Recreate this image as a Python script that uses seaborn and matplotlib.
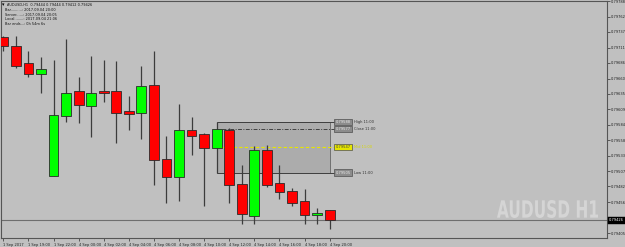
import matplotlib
matplotlib.use("Agg")
import matplotlib.pyplot as plt
import seaborn as sns
import numpy as np
import pandas as pd
from matplotlib.patches import Rectangle, PathPatch
from matplotlib.textpath import TextPath
from matplotlib.font_manager import FontProperties
import matplotlib.transforms as mtransforms

# ---------------- data (AUDUSD H1) ----------------
opens  = [0.79728, 0.79714, 0.79685, 0.79668, 0.79500, 0.79599, 0.79639, 0.79614, 0.79639,
          0.79639, 0.79606, 0.79603, 0.79649, 0.79527, 0.79497, 0.79576, 0.79568, 0.79545,
          0.79576, 0.79486, 0.79434, 0.79542, 0.79487, 0.79474, 0.79458, 0.79435, 0.79444]
highs  = [0.79731, 0.79731, 0.79705, 0.79696, 0.79691, 0.79726, 0.79662, 0.79698, 0.79690,
          0.79689, 0.79632, 0.79680, 0.79706, 0.79566, 0.79618, 0.79597, 0.79570, 0.79588,
          0.79579, 0.79517, 0.79549, 0.79550, 0.79517, 0.79479, 0.79478, 0.79446, 0.79444]
lows   = [0.79705, 0.79678, 0.79663, 0.79637, 0.79499, 0.79589, 0.79587, 0.79564, 0.79622,
          0.79554, 0.79575, 0.79561, 0.79485, 0.79455, 0.79458, 0.79534, 0.79450, 0.79505,
          0.79454, 0.79420, 0.79420, 0.79481, 0.79461, 0.79449, 0.79420, 0.79420, 0.79412]
closes = [0.79713, 0.79681, 0.79668, 0.79676, 0.79600, 0.79637, 0.79616, 0.79637, 0.79637,
          0.79603, 0.79602, 0.79647, 0.79526, 0.79498, 0.79575, 0.79566, 0.79546, 0.79577,
          0.79484, 0.79436, 0.79543, 0.79485, 0.79473, 0.79455, 0.79435, 0.79439, 0.79426]

x_tick_labels = ["1 Sep 2017", "1 Sep 19:00", "1 Sep 22:00", "4 Sep 00:00", "4 Sep 02:00",
                 "4 Sep 04:00", "4 Sep 06:00", "4 Sep 08:00", "4 Sep 10:00", "4 Sep 12:00",
                 "4 Sep 14:00", "4 Sep 16:00", "4 Sep 18:00", "4 Sep 20:00"]
y_ticks = [0.79405, 0.79431, 0.79456, 0.79482, 0.79507, 0.79533, 0.79558, 0.79584,
           0.79609, 0.79635, 0.79660, 0.79686, 0.79711, 0.79737, 0.79762, 0.79788]

# 11:00 candle box levels
box_names  = ["High 11:00", "Close 11:00", "Mid 11:00", "Low 11:00"]
box_values = [0.79588, 0.79577, 0.79547, 0.79505]
box_start, box_end = 17, 26

info_lines = ["AUDUSD,H1  0.79444 0.79444 0.79412 0.79426",
              "Bar..........: 2017.09.04 20:00",
              "Server......: 2017.09.04 20:05",
              "Local........: 2017.09.04 21:06",
              "Bar ends...: 0h 54m 6s"]
watermark = "AUDUSD H1"

df = pd.DataFrame({"open": opens, "high": highs, "low": lows, "close": closes})
df["idx"] = np.arange(len(df))
df["bull"] = df["close"] >= df["open"]

# ---------------- style ----------------
BG = "#c0c0c0"
sns.set_theme(style="white", rc={"figure.facecolor": BG, "axes.facecolor": BG,
                                 "savefig.facecolor": BG})
plt.rcParams["font.family"] = ["DejaVu Sans"]

W, H = 625, 247
fig = plt.figure(figsize=(W / 100, H / 100), dpi=100)
ax = fig.add_axes([1 / W, 9 / H, 606 / W, 237 / H])

# watermark (horizontally condensed bold text)
tp = TextPath((0, 0), watermark, size=100,
              prop=FontProperties(family="DejaVu Sans", weight="bold"))
ext = tp.get_extents()
wx0, wx1, wy_top, wy_bot = 497, 598, 200, 218
tr = (mtransforms.Affine2D()
      .translate(-ext.x0, -ext.y0)
      .scale((wx1 - wx0) / ext.width / 100, (wy_bot - wy_top) / ext.height / 100)
      .translate(wx0 / 100, (H - wy_bot) / 100)) + fig.dpi_scale_trans
fig.patches.append(PathPatch(tp, transform=tr, facecolor="#d5d5d5", edgecolor="none",
                             zorder=0.5))

# box behind candles
ax.add_patch(Rectangle((box_start, box_values[3]), box_end - box_start,
                       box_values[0] - box_values[3], facecolor="#acacac",
                       edgecolor="#707070", lw=0.7, zorder=1))
tag_x = 26.45
ax.hlines(box_values[0], box_start, tag_x, color="#404040", lw=0.7, zorder=1.5)
ax.hlines(box_values[3], box_start, tag_x, color="#404040", lw=0.7, zorder=1.5)
ax.hlines(box_values[1], box_start + 0.4, tag_x, color="#404040", lw=0.7,
          linestyles=(0, (4, 1.5, 1, 1.5)), zorder=1.5)
ax.hlines(box_values[2], box_start + 0.4, tag_x, color="#e6e600", lw=0.8,
          linestyles=(0, (3, 2)), zorder=1.5)

for nm, v in zip(box_names, box_values):
    yellow = nm.startswith("Mid")
    ax.text(tag_x, v, f"{v:.5f}", ha="left", va="center", fontsize=2.6,
            color="#404040" if yellow else "#ececec",
            bbox=dict(boxstyle="square,pad=0.35", fc="#e6e600" if yellow else "#8c8c8c",
                      ec="#505050", lw=0.5), zorder=4)
    ax.text(27.95, v, nm, ha="left", va="center", fontsize=2.6,
            color="#d8d800" if yellow else "#303030", zorder=4)

# wicks
ax.vlines(df["idx"], df["low"], df["high"], color="#3c3c3c", lw=0.9, zorder=2)
# bodies
width = 0.78
bottoms = np.minimum(df["open"], df["close"])
heights = np.maximum(np.abs(df["close"] - df["open"]), 0.000015)
colors = np.where(df["bull"], "#00ff00", "#ff0000")
ax.bar(df["idx"], heights, bottom=bottoms, width=width, color=colors,
       edgecolor="#2a2a2a", linewidth=0.6, zorder=3)

# bid line
ax.axhline(closes[-1], color="#6e6e6e", lw=0.8, zorder=1.2)

# axes limits
ax.set_xlim(-0.183, 48.09)
ax.set_ylim(0.793970, 0.797874)

# x ticks
ax.set_xticks(np.arange(0, 27, 2))
ax.set_xticklabels(x_tick_labels, fontsize=2.6, color="#202020", ha="left")
ax.tick_params(axis="x", direction="out", length=2.5, width=0.5, color="#303030",
               pad=0.8, bottom=True)

# y ticks on right
ax.yaxis.tick_right()
ax.set_yticks(y_ticks)
ylabels = [f"{v:.5f}" for v in y_ticks]
ylabels[1] = ""
ax.set_yticklabels(ylabels, fontsize=2.6, color="#202020")
ax.tick_params(axis="y", direction="out", length=2, width=0.5, color="#303030",
               pad=0.8, right=True, left=False)

for s in ax.spines.values():
    s.set_color("#555555")
    s.set_linewidth(0.8)
    s.set_visible(True)

# bid price tag
trans = mtransforms.blended_transform_factory(ax.transAxes, ax.transData)
ax.text(1.003, closes[-1], f"{closes[-1]:.5f}", transform=trans, ha="left", va="center",
        fontsize=2.6, color="#ffffff", clip_on=False, zorder=6,
        bbox=dict(boxstyle="square,pad=0.3", fc="#000000", ec="#000000", lw=0.3))

# info lines top-left
ys = [4.5, 10, 14.5, 19.2, 24]
fig.text(2 / W, 1 - 4.5 / H, "\u25BE", fontsize=3.5, color="#000000", ha="left", va="center")
for i, (t, yy) in enumerate(zip(info_lines, ys)):
    fig.text((7 if i == 0 else 5) / W, 1 - yy / H, t, fontsize=2.5, color="#101010",
             ha="left", va="center")

fig.savefig("out.png", dpi=100)
